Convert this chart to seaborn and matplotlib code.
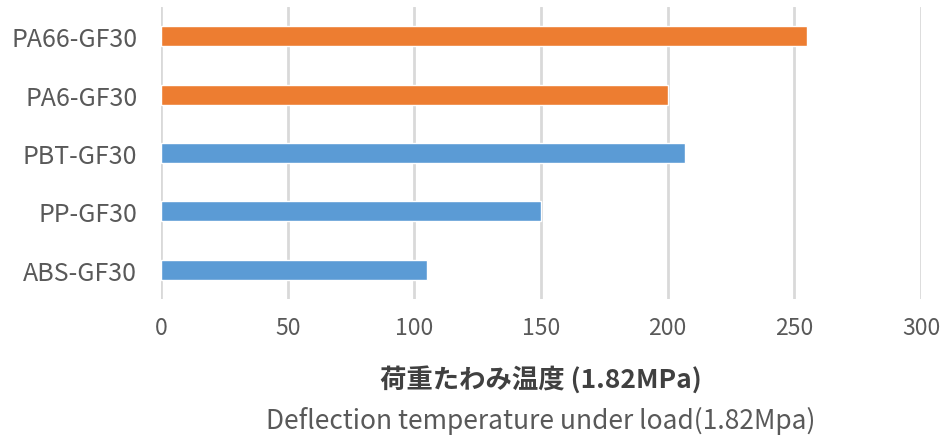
import matplotlib
matplotlib.use("Agg")
import matplotlib.pyplot as plt
import seaborn as sns
import pandas as pd

# Heat deflection temperature (1.82 MPa) of glass-fibre filled resins
materials = ["PA66-GF30", "PA6-GF30", "PBT-GF30", "PP-GF30", "ABS-GF30"]
hdt_c = [255, 200, 207, 150, 105]
family = ["PA", "PA", "other", "other", "other"]
x_ticks = [0, 50, 100, 150, 200, 250, 300]

family_colors = {"PA": "#ED7D31", "other": "#5B9BD5"}

sns.set_theme(style="white")
plt.rcParams["font.family"] = ["Noto Sans CJK JP", "DejaVu Sans"]

df = pd.DataFrame({"material": materials, "hdt": hdt_c, "family": family})

fig = plt.figure(figsize=(9.46, 4.39), dpi=100)
ax = fig.add_axes([161 / 946, 1 - 300 / 439, (921 - 161) / 946, 292 / 439])

sns.barplot(data=df, x="hdt", y="material", hue="family", palette=family_colors,
            orient="h", width=0.34, dodge=False, legend=False, ax=ax,
            order=materials, saturation=1)

ax.set_xlim(0, 300)
ax.set_ylim(4.5, -0.5)
ax.set_xticks(x_ticks)
ax.set_xticklabels([str(t) for t in x_ticks])
ax.xaxis.grid(True, color="#D9D9D9", linewidth=2)
ax.yaxis.grid(False)
ax.set_axisbelow(True)
for s in ax.spines.values():
    s.set_visible(False)

ax.tick_params(axis="both", length=0, colors="#595959")
ax.tick_params(axis="y", labelsize=18, pad=17)
ax.tick_params(axis="x", labelsize=16.5, pad=12)
ax.set_xlabel("")
ax.set_ylabel("")

fig.text(541 / 946, 1 - 380 / 439, "荷重たわみ温度 (1.82MPa)", ha="center", va="center",
         fontsize=19, fontweight="bold", color="#404040")
fig.text(541 / 946, 1 - 421 / 439, "Deflection temperature under load(1.82Mpa)",
         ha="center", va="center", fontsize=19, color="#595959")

fig.savefig("out.png", dpi=100)
